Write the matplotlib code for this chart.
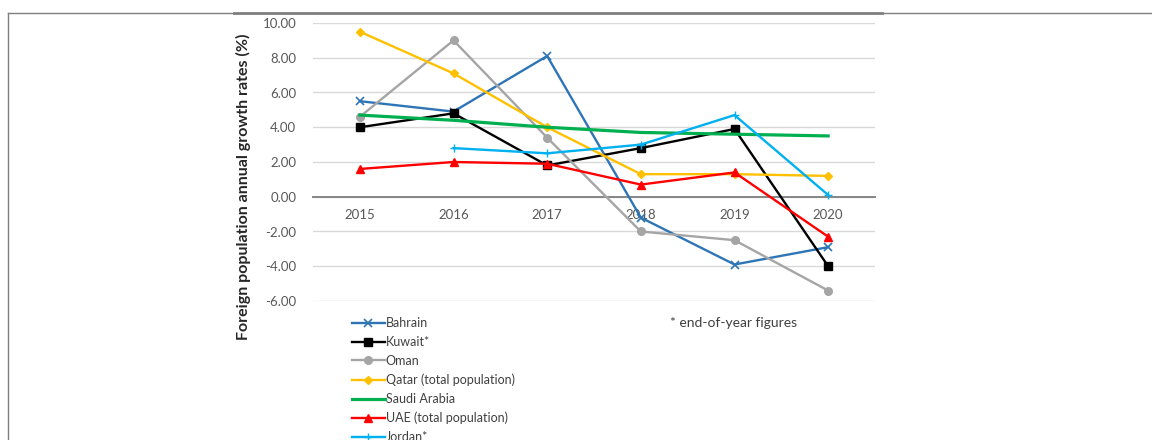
import matplotlib
matplotlib.use("Agg")
from matplotlib import pyplot as plt
from matplotlib.lines import Line2D

plt.rcParams['font.family'] = ['Lato', 'DejaVu Sans']

# annual growth rates of the foreign population (%)
years = ['2015', '2016', '2017', '2018', '2019', '2020']
bahrain = [5.5, 4.9, 8.1, -1.2, -3.9, -2.9]
kuwait = [4.0, 4.8, 1.8, 2.8, 3.9, -4.0]
oman = [4.6, 9.0, 3.4, -2.0, -2.5, -5.4]
qatar = [9.5, 7.1, 4.0, 1.3, 1.3, 1.2]
saudi = [4.7, 4.4, 4.0, 3.7, 3.6, 3.5]
uae = [1.6, 2.0, 1.9, 0.7, 1.4, -2.3]
jordan_years = ['2016', '2017', '2018', '2019', '2020']
jordan = [2.8, 2.5, 3.0, 4.7, 0.1]

fig = plt.figure(figsize=(11.52, 4.4), dpi=100)
ax = fig.add_axes([313 / 1152, 1 - 301 / 440, 562 / 1152, 278 / 440])

x = list(range(len(years)))
xj = [years.index(y) for y in jordan_years]

ax.plot(x, bahrain, color='#2E75B6', lw=1.7, marker='x', ms=6, mew=1.2, label='Bahrain')
ax.plot(x, kuwait, color='black', lw=1.7, marker='s', ms=6, label='Kuwait*')
ax.plot(x, oman, color='#A5A5A5', lw=1.7, marker='o', ms=5.5, label='Oman')
ax.plot(x, qatar, color='#FFC000', lw=1.7, marker='D', ms=4.5, label='Qatar (total population)')
ax.plot(x, saudi, color='#00B050', lw=2.3, label='Saudi Arabia')
ax.plot(x, uae, color='#FF0000', lw=1.7, marker='^', ms=6, label='UAE (total population)')
ax.plot(xj, jordan, color='#00B0F0', lw=1.7, marker='+', ms=6, label='Jordan*')

ax.set_xlim(-0.5, len(years) - 0.5)
ax.set_ylim(-6, 10)
ax.set_yticks(range(-6, 11, 2))
ax.set_yticklabels(['%.2f' % v for v in range(-6, 11, 2)])
ax.set_xticks(x)
ax.set_xticklabels(years)

ax.grid(axis='y', color='#D9D9D9', lw=1)
ax.set_axisbelow(True)
for side in ['top', 'right', 'left']:
    ax.spines[side].set_visible(False)
ax.spines['bottom'].set_position(('data', 0))
ax.spines['bottom'].set_color('#868686')
ax.spines['bottom'].set_linewidth(1.4)
ax.spines['bottom'].set_zorder(1)
ax.tick_params(axis='both', length=0, labelsize=9.5, labelcolor='#595959')
ax.tick_params(axis='x', pad=9)
ax.tick_params(axis='y', pad=12)

fig.text(243 / 1152, 1 - 187 / 440, 'Foreign population annual growth rates (%)',
         rotation=90, ha='center', va='center', fontsize=11.5, fontweight='bold',
         color='#262626')

ax.legend(loc='upper left', bbox_to_anchor=(352 / 1152, 1 - 317 / 440),
          bbox_transform=fig.transFigure, frameon=False, fontsize=9,
          handlelength=2.6, handletextpad=0.1, labelspacing=0.55,
          borderaxespad=0, borderpad=0, labelcolor='#404040')

fig.text(670 / 1152, 1 - 323 / 440, '* end-of-year figures', ha='left', va='center',
         fontsize=10, color='#404040')

# page frame around the chart
fig.add_artist(Line2D([8 / 1152, 1], [1 - 13.5 / 440] * 2, transform=fig.transFigure,
                      color='#7F7F7F', lw=1))
fig.add_artist(Line2D([234 / 1152, 882 / 1152], [1 - 13.5 / 440] * 2,
                      transform=fig.transFigure, color='#7F7F7F', lw=2))
fig.add_artist(Line2D([8 / 1152] * 2, [0, 1 - 13.5 / 440], transform=fig.transFigure,
                      color='#7F7F7F', lw=1))

fig.savefig('out.png', dpi=100, facecolor='white')
